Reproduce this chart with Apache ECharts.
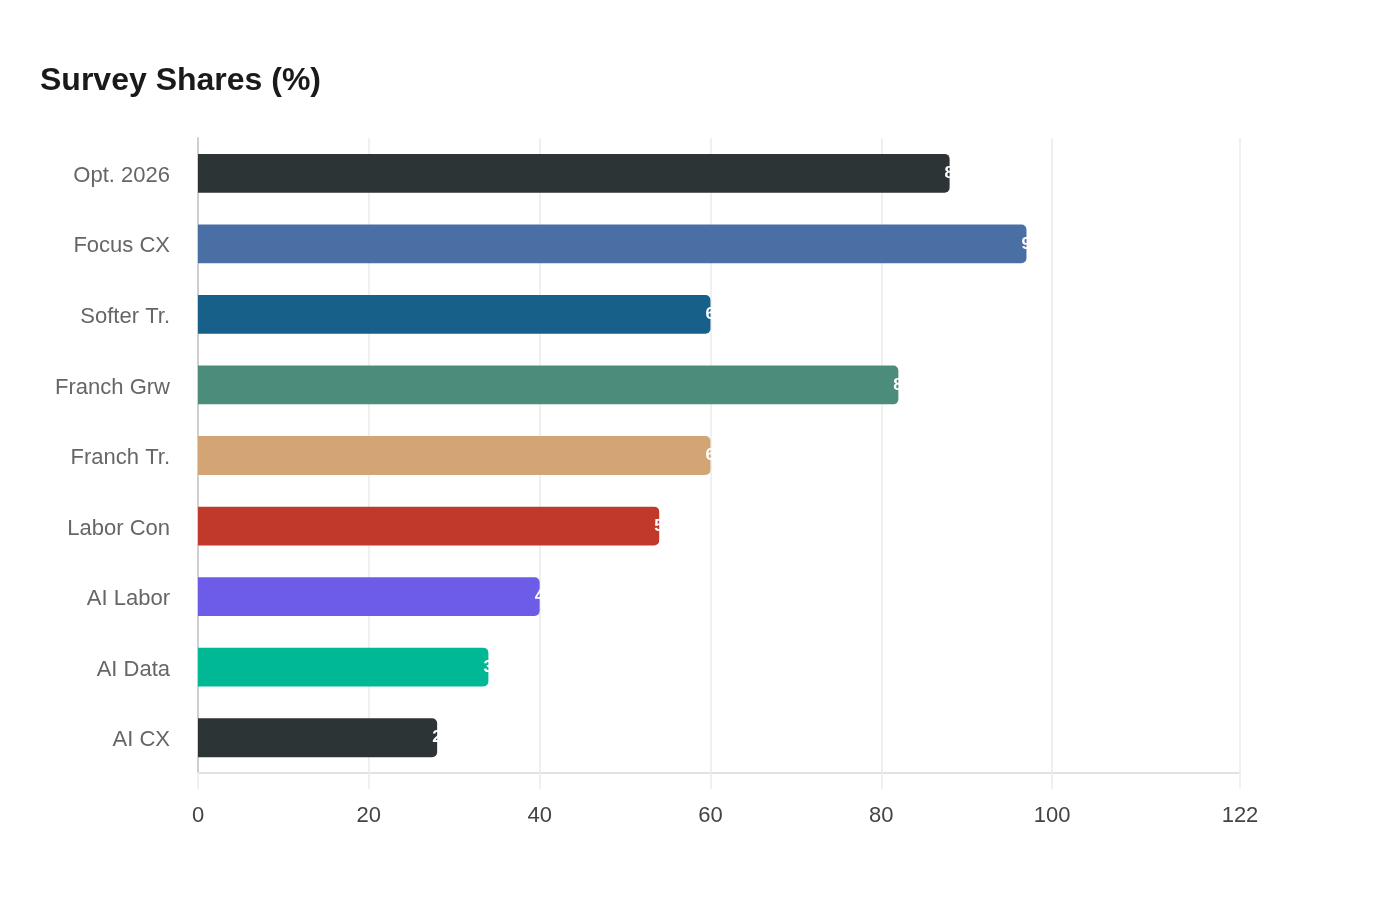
<!DOCTYPE html>
<html>
<head>
<meta charset="utf-8">
<style>
html,body{margin:0;padding:0;background:#fff;}
#chart{width:1400px;height:900px;}
</style>
<script src="https://cdn.jsdelivr.net/npm/echarts@6/dist/echarts.min.js"></script>
</head>
<body>
<div id="chart"></div>
<script>
const categories = ['Opt. 2026','Focus CX','Softer Tr.','Franch Grw','Franch Tr.','Labor Con','AI Labor','AI Data','AI CX'];
const values = [88, 97, 60, 82, 60, 54, 40, 34, 28];
const barColors = ['#2d3436','#4a6fa5','#17608a','#4c8c7a','#d4a574','#c0392b','#6c5ce7','#00b894','#2d3436'];
const tickValues = [0, 20, 40, 60, 80, 100, 122];

const chart = echarts.init(document.getElementById('chart'));
chart.setOption({
  backgroundColor: '#ffffff',
  animation: false,
  title: {
    text: 'Survey Shares (%)',
    left: 35,
    top: 60,
    textStyle: { fontFamily: 'Liberation Sans, Arial, sans-serif', fontSize: 32, fontWeight: 'bold', color: '#1a1a1a' }
  },
  grid: { left: 198, right: 160, top: 138, bottom: 127, containLabel: false },
  xAxis: {
    type: 'value',
    min: 0,
    max: 122,
    axisLine: { show: true, lineStyle: { color: '#e2e2e2', width: 2 } },
    axisTick: { show: true, length: 16, lineStyle: { color: '#f0f0f0', width: 2 }, customValues: tickValues },
    splitLine: { show: true, lineStyle: { color: '#f0f0f0', width: 2 } },
    axisLabel: {
      customValues: tickValues,
      color: '#444',
      fontSize: 22,
      fontFamily: 'Liberation Sans, Arial, sans-serif',
      margin: 32
    }
  },
  yAxis: {
    type: 'category',
    inverse: true,
    data: categories,
    axisLine: { show: true, lineStyle: { color: '#cfcfcf', width: 2 } },
    axisTick: { show: false },
    axisLabel: {
      margin: 28,
      formatter: '{a|{value}}',
      rich: {
        a: {
          color: '#666',
          fontSize: 22,
          fontFamily: 'Liberation Sans, Arial, sans-serif',
          padding: [5, 0, 0, 0]
        }
      }
    }
  },
  series: [{
    type: 'bar',
    data: values.map((v, i) => ({ value: v, itemStyle: { color: barColors[i] } })),
    barWidth: '55%',
    itemStyle: { borderRadius: [0, 5, 5, 0] },
    label: {
      show: true,
      position: 'right',
      distance: -5,
      color: '#ffffff',
      fontSize: 17,
      fontWeight: 'bold',
      fontFamily: 'Liberation Sans, Arial, sans-serif'
    }
  }]
});
</script>
</body>
</html>
